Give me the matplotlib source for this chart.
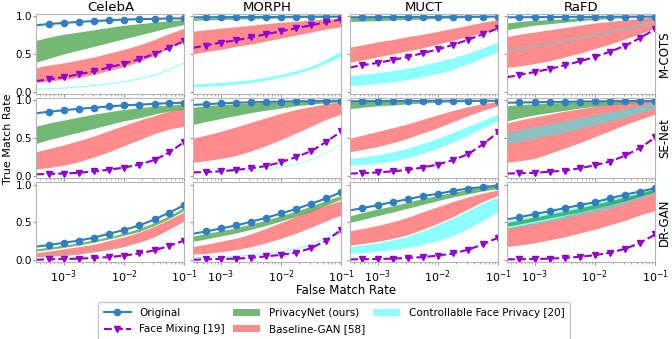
import matplotlib.pyplot as plt
import numpy as np

datasets = ["CelebA", "MORPH", "MUCT", "RaFD"]
matchers = ["M-COTS", "SE-Net", "DR-GAN"]
fmr = [3.5e-4, 5.6e-4, 1e-3, 1.8e-3, 3.2e-3, 5.6e-3, 1e-2, 1.8e-2, 3.2e-2, 5.6e-2, 1e-1]

# every table below is [matcher][dataset][fmr point]
original = [
    [[0.88, 0.895, 0.91, 0.925, 0.935, 0.945, 0.955, 0.96, 0.965, 0.97, 0.97],
     [0.985, 0.985, 0.987, 0.988, 0.99, 0.99, 0.99, 0.992, 0.992, 0.993, 0.993],
     [0.985, 0.986, 0.987, 0.988, 0.99, 0.99, 0.99, 0.992, 0.992, 0.993, 0.993],
     [0.985, 0.986, 0.987, 0.988, 0.99, 0.99, 0.99, 0.992, 0.992, 0.993, 0.993]],
    [[0.83, 0.85, 0.87, 0.89, 0.905, 0.92, 0.935, 0.945, 0.955, 0.965, 0.97],
     [0.94, 0.95, 0.96, 0.97, 0.975, 0.98, 0.985, 0.99, 0.99, 0.995, 0.995],
     [0.99, 0.99, 0.992, 0.993, 0.994, 0.995, 0.995, 0.995, 0.995, 0.995, 0.995],
     [0.97, 0.973, 0.976, 0.979, 0.982, 0.985, 0.988, 0.99, 0.992, 0.994, 0.995]],
    [[0.18, 0.20, 0.23, 0.26, 0.30, 0.35, 0.40, 0.46, 0.54, 0.63, 0.73],
     [0.35, 0.38, 0.42, 0.46, 0.51, 0.56, 0.62, 0.68, 0.75, 0.82, 0.90],
     [0.66, 0.69, 0.73, 0.77, 0.81, 0.85, 0.88, 0.92, 0.95, 0.97, 0.99],
     [0.54, 0.57, 0.61, 0.65, 0.69, 0.73, 0.77, 0.82, 0.87, 0.91, 0.955]],
]

face_mixing = [
    [[0.14, 0.16, 0.19, 0.23, 0.27, 0.32, 0.37, 0.43, 0.50, 0.58, 0.67],
     [0.58, 0.61, 0.65, 0.68, 0.72, 0.76, 0.80, 0.84, 0.88, 0.92, 0.955],
     [0.32, 0.35, 0.38, 0.42, 0.46, 0.51, 0.56, 0.62, 0.69, 0.76, 0.84],
     [0.19, 0.22, 0.26, 0.30, 0.35, 0.40, 0.46, 0.53, 0.61, 0.71, 0.83]],
    [[0.02, 0.025, 0.03, 0.04, 0.06, 0.08, 0.11, 0.15, 0.21, 0.31, 0.45],
     [0.045, 0.05, 0.06, 0.08, 0.10, 0.13, 0.18, 0.25, 0.33, 0.45, 0.59],
     [0.03, 0.035, 0.045, 0.06, 0.08, 0.11, 0.15, 0.21, 0.29, 0.42, 0.58],
     [0.03, 0.035, 0.04, 0.055, 0.07, 0.10, 0.14, 0.19, 0.27, 0.37, 0.51]],
    [[0.005, 0.01, 0.015, 0.02, 0.03, 0.04, 0.06, 0.09, 0.13, 0.19, 0.26],
     [0.005, 0.01, 0.015, 0.02, 0.03, 0.05, 0.07, 0.10, 0.16, 0.26, 0.40],
     [0.01, 0.012, 0.015, 0.02, 0.03, 0.04, 0.06, 0.09, 0.14, 0.21, 0.30],
     [0.01, 0.012, 0.015, 0.02, 0.03, 0.045, 0.065, 0.10, 0.15, 0.23, 0.34]],
]

privacynet_lo = [
    [[0.39, 0.44, 0.50, 0.55, 0.60, 0.65, 0.70, 0.75, 0.80, 0.85, 0.89],
     [0.945, 0.95, 0.955, 0.96, 0.965, 0.97, 0.975, 0.98, 0.983, 0.986, 0.99],
     [0.93, 0.935, 0.94, 0.95, 0.955, 0.96, 0.97, 0.975, 0.98, 0.985, 0.99],
     [0.82, 0.85, 0.88, 0.90, 0.92, 0.94, 0.955, 0.97, 0.98, 0.985, 0.99]],
    [[0.43, 0.48, 0.53, 0.58, 0.63, 0.68, 0.73, 0.77, 0.82, 0.86, 0.89],
     [0.68, 0.72, 0.76, 0.80, 0.84, 0.87, 0.90, 0.93, 0.95, 0.97, 0.98],
     [0.89, 0.91, 0.93, 0.94, 0.955, 0.965, 0.975, 0.98, 0.985, 0.99, 0.99],
     [0.73, 0.77, 0.81, 0.84, 0.87, 0.90, 0.92, 0.94, 0.96, 0.975, 0.985]],
    [[0.12, 0.14, 0.17, 0.20, 0.24, 0.28, 0.33, 0.38, 0.46, 0.55, 0.66],
     [0.25, 0.28, 0.32, 0.36, 0.41, 0.46, 0.52, 0.58, 0.65, 0.73, 0.81],
     [0.50, 0.54, 0.59, 0.64, 0.69, 0.74, 0.79, 0.84, 0.88, 0.92, 0.95],
     [0.45, 0.48, 0.52, 0.56, 0.60, 0.64, 0.69, 0.74, 0.79, 0.85, 0.91]],
]
privacynet_hi = [
    [[0.68, 0.72, 0.76, 0.79, 0.82, 0.85, 0.88, 0.90, 0.92, 0.94, 0.955],
     [0.975, 0.978, 0.98, 0.982, 0.984, 0.986, 0.988, 0.99, 0.99, 0.99, 0.99],
     [0.98, 0.982, 0.984, 0.986, 0.988, 0.99, 0.99, 0.99, 0.99, 0.99, 0.99],
     [0.91, 0.93, 0.945, 0.955, 0.965, 0.975, 0.98, 0.985, 0.99, 0.99, 0.99]],
    [[0.66, 0.70, 0.74, 0.78, 0.82, 0.85, 0.88, 0.905, 0.925, 0.94, 0.955],
     [0.91, 0.93, 0.945, 0.955, 0.965, 0.975, 0.98, 0.985, 0.99, 0.99, 0.99],
     [0.985, 0.986, 0.987, 0.988, 0.989, 0.99, 0.99, 0.99, 0.99, 0.99, 0.99],
     [0.93, 0.945, 0.955, 0.965, 0.975, 0.98, 0.985, 0.99, 0.99, 0.99, 0.99]],
    [[0.15, 0.17, 0.20, 0.23, 0.27, 0.31, 0.36, 0.42, 0.50, 0.59, 0.70],
     [0.32, 0.35, 0.39, 0.43, 0.48, 0.53, 0.59, 0.65, 0.72, 0.79, 0.86],
     [0.59, 0.63, 0.68, 0.72, 0.77, 0.82, 0.86, 0.90, 0.94, 0.97, 0.99],
     [0.50, 0.53, 0.57, 0.61, 0.65, 0.69, 0.74, 0.79, 0.84, 0.89, 0.95]],
]

baseline_lo = [
    [[0.12, 0.14, 0.16, 0.19, 0.23, 0.28, 0.33, 0.40, 0.48, 0.58, 0.68],
     [0.50, 0.53, 0.56, 0.60, 0.63, 0.67, 0.71, 0.75, 0.79, 0.83, 0.86],
     [0.39, 0.42, 0.46, 0.50, 0.54, 0.58, 0.63, 0.68, 0.73, 0.78, 0.84],
     [0.32, 0.34, 0.37, 0.41, 0.46, 0.51, 0.57, 0.63, 0.70, 0.77, 0.84]],
    [[0.09, 0.11, 0.14, 0.19, 0.25, 0.32, 0.40, 0.48, 0.56, 0.62, 0.66],
     [0.18, 0.20, 0.23, 0.27, 0.33, 0.40, 0.48, 0.57, 0.66, 0.75, 0.82],
     [0.32, 0.35, 0.39, 0.44, 0.50, 0.57, 0.64, 0.72, 0.80, 0.87, 0.93],
     [0.18, 0.20, 0.23, 0.30, 0.37, 0.44, 0.52, 0.60, 0.68, 0.75, 0.82]],
    [[0.04, 0.05, 0.06, 0.08, 0.11, 0.14, 0.18, 0.24, 0.31, 0.41, 0.52],
     [0.08, 0.09, 0.11, 0.14, 0.18, 0.23, 0.29, 0.36, 0.44, 0.52, 0.60],
     [0.20, 0.22, 0.25, 0.29, 0.34, 0.41, 0.49, 0.58, 0.68, 0.78, 0.86],
     [0.18, 0.20, 0.23, 0.27, 0.31, 0.36, 0.41, 0.47, 0.53, 0.60, 0.66]],
]
baseline_hi = [
    [[0.32, 0.35, 0.38, 0.42, 0.46, 0.51, 0.56, 0.62, 0.69, 0.77, 0.84],
     [0.80, 0.82, 0.84, 0.86, 0.88, 0.90, 0.92, 0.93, 0.95, 0.96, 0.97],
     [0.59, 0.62, 0.66, 0.69, 0.73, 0.76, 0.80, 0.84, 0.88, 0.92, 0.955],
     [0.73, 0.76, 0.79, 0.82, 0.85, 0.88, 0.91, 0.93, 0.95, 0.97, 0.99]],
    [[0.32, 0.36, 0.41, 0.47, 0.53, 0.60, 0.67, 0.74, 0.80, 0.86, 0.90],
     [0.50, 0.54, 0.59, 0.65, 0.71, 0.77, 0.83, 0.88, 0.92, 0.96, 0.98],
     [0.50, 0.54, 0.59, 0.64, 0.69, 0.75, 0.81, 0.87, 0.92, 0.96, 0.985],
     [0.70, 0.74, 0.78, 0.82, 0.86, 0.89, 0.92, 0.945, 0.965, 0.98, 0.99]],
    [[0.10, 0.12, 0.15, 0.18, 0.21, 0.26, 0.31, 0.37, 0.45, 0.54, 0.64],
     [0.18, 0.21, 0.25, 0.29, 0.35, 0.42, 0.50, 0.58, 0.66, 0.73, 0.79],
     [0.39, 0.42, 0.46, 0.51, 0.57, 0.64, 0.71, 0.78, 0.84, 0.89, 0.93],
     [0.43, 0.46, 0.50, 0.54, 0.59, 0.64, 0.69, 0.75, 0.81, 0.87, 0.92]],
]

controllable_lo = [
    [[0.03, 0.035, 0.045, 0.06, 0.08, 0.10, 0.13, 0.17, 0.22, 0.29, 0.38],
     [0.06, 0.07, 0.08, 0.10, 0.12, 0.15, 0.19, 0.24, 0.30, 0.38, 0.47],
     [0.08, 0.09, 0.11, 0.13, 0.16, 0.20, 0.24, 0.30, 0.37, 0.45, 0.53],
     [0.53, 0.565, 0.60, 0.635, 0.67, 0.71, 0.75, 0.79, 0.83, 0.875, 0.92]],
    [[0.03, 0.035, 0.04, 0.05, 0.07, 0.09, 0.12, 0.16, 0.22, 0.32, 0.46],
     [0.05, 0.05, 0.055, 0.06, 0.07, 0.09, 0.12, 0.16, 0.22, 0.31, 0.42],
     [0.14, 0.15, 0.17, 0.20, 0.24, 0.30, 0.37, 0.45, 0.54, 0.64, 0.73],
     [0.42, 0.46, 0.50, 0.54, 0.58, 0.63, 0.68, 0.73, 0.78, 0.84, 0.90]],
    [[0.05, 0.06, 0.07, 0.09, 0.11, 0.14, 0.18, 0.23, 0.29, 0.37, 0.45],
     [0.03, 0.035, 0.04, 0.05, 0.065, 0.085, 0.11, 0.15, 0.21, 0.30, 0.42],
     [0.09, 0.10, 0.12, 0.14, 0.17, 0.21, 0.26, 0.33, 0.42, 0.53, 0.64],
     [0.42, 0.45, 0.48, 0.52, 0.56, 0.60, 0.64, 0.69, 0.75, 0.82, 0.89]],
]
controllable_hi = [
    [[0.045, 0.05, 0.06, 0.075, 0.095, 0.115, 0.145, 0.185, 0.235, 0.305, 0.395],
     [0.10, 0.11, 0.12, 0.14, 0.16, 0.19, 0.23, 0.28, 0.34, 0.43, 0.54],
     [0.21, 0.23, 0.25, 0.28, 0.31, 0.35, 0.40, 0.45, 0.51, 0.58, 0.66],
     [0.55, 0.585, 0.62, 0.655, 0.69, 0.73, 0.77, 0.81, 0.85, 0.895, 0.94]],
    [[0.045, 0.05, 0.055, 0.065, 0.085, 0.105, 0.135, 0.175, 0.235, 0.335, 0.475],
     [0.062, 0.062, 0.067, 0.072, 0.082, 0.10, 0.13, 0.17, 0.23, 0.32, 0.43],
     [0.23, 0.25, 0.28, 0.32, 0.37, 0.43, 0.50, 0.58, 0.66, 0.74, 0.82],
     [0.57, 0.61, 0.65, 0.69, 0.73, 0.77, 0.81, 0.85, 0.89, 0.93, 0.97]],
    [[0.06, 0.07, 0.08, 0.10, 0.12, 0.15, 0.19, 0.24, 0.30, 0.38, 0.46],
     [0.045, 0.05, 0.055, 0.065, 0.08, 0.10, 0.125, 0.165, 0.225, 0.315, 0.435],
     [0.18, 0.20, 0.23, 0.27, 0.32, 0.39, 0.47, 0.56, 0.66, 0.76, 0.84],
     [0.52, 0.55, 0.59, 0.63, 0.67, 0.71, 0.76, 0.81, 0.86, 0.91, 0.955]],
]

fig, axes = plt.subplots(3, 4, figsize=(6.72, 3.39), dpi=100, sharex=True, sharey=True)
fig.subplots_adjust(left=0.054, right=0.975, top=0.959, bottom=0.226, wspace=0.06, hspace=0.055)

for r in range(3):
    for c in range(4):
        ax = axes[r, c]
        ax.fill_between(fmr, baseline_lo[r][c], baseline_hi[r][c], color='red', alpha=0.45,
                        linewidth=0, label='Baseline-GAN [58]')
        ax.fill_between(fmr, controllable_lo[r][c], controllable_hi[r][c], color='cyan', alpha=0.45,
                        linewidth=0, label='Controllable Face Privacy [20]')
        ax.fill_between(fmr, privacynet_lo[r][c], privacynet_hi[r][c], color='green', alpha=0.55,
                        linewidth=0, label='PrivacyNet (ours)')
        ax.plot(fmr, original[r][c], color='#2f7fc1', lw=1.5, marker='o', ms=4.5,
                markevery=range(1, len(fmr)), label='Original')
        ax.plot(fmr, face_mixing[r][c], color='darkviolet', lw=1.5, ls='--', marker='v', ms=4,
                markevery=range(1, len(fmr)), label='Face Mixing [19]')
        ax.set_xscale('log')
        ax.set_xlim(3.5e-4, 1e-1)
        ax.set_ylim(-0.03, 1.03)
        ax.set_yticks([0.0, 0.5, 1.0])
        for s in ax.spines.values():
            s.set_color('#b5b5b5')
        ax.tick_params(which='both', colors='#999999', labelcolor='black', labelsize=8,
                       length=2.5, pad=1.5)
        ax.tick_params(axis='y', labelsize=7.5, length=2, pad=1)
        ax.tick_params(which='minor', length=1.6)
        if r == 0:
            ax.set_title(datasets[c], fontsize=9.5, pad=2)
    axes[r, 3].yaxis.set_label_position('right')
    axes[r, 3].set_ylabel(matchers[r], fontsize=8.5, rotation=90, labelpad=2)

fig.text(0.515, 0.134, 'False Match Rate', ha='center', fontsize=8.5)
fig.text(0.004, 0.59, 'True Match Rate', ha='left', va='center', rotation=90, fontsize=8)

h, l = axes[0, 0].get_legend_handles_labels()
order = [3, 4, 2, 0, 1]
fig.legend([h[i] for i in order], [l[i] for i in order], loc='upper center',
           bbox_to_anchor=(0.497, 0.124), ncol=3, fontsize=7.5, handlelength=2.6,
           columnspacing=0.8, borderpad=0.55, labelspacing=0.6, edgecolor='#bbbbbb')

fig.savefig('out.png', dpi=100)
